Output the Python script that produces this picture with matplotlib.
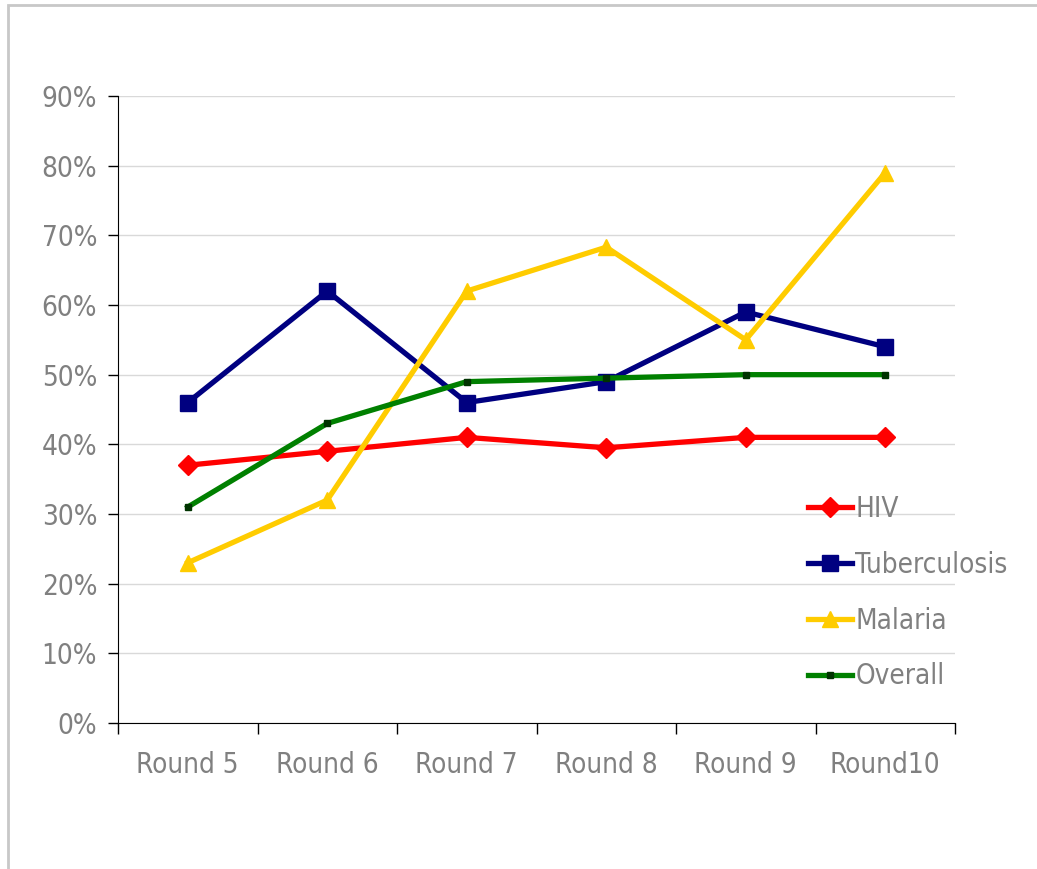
import matplotlib.pyplot as plt
from matplotlib.patches import Rectangle
from matplotlib.ticker import PercentFormatter

plt.rcParams['font.family'] = ['DejaVu Sans']
plt.rcParams['font.stretch'] = 'condensed'

# Data (share of ..., per round)
rounds = ['Round 5', 'Round 6', 'Round 7', 'Round 8', 'Round 9', 'Round10']
hiv = [37, 39, 41, 39.5, 41, 41]
tuberculosis = [46, 62, 46, 49, 59, 54]
malaria = [23, 32, 62, 68.3, 55, 79]
overall = [31, 43, 49, 49.5, 50, 50]

fig = plt.figure(figsize=(10.37, 8.69), dpi=100)
# outer chart border (Excel style)
fig.patches.append(Rectangle((8 / 1037, -0.1), 1.2, 1 - 5 / 869 + 0.1,
                             transform=fig.transFigure, fill=False,
                             edgecolor='#c8c8c8', linewidth=2))

ax = fig.add_axes([118 / 1037, 1 - 723 / 869, 837 / 1037, 627 / 869])
x = [i + 0.5 for i in range(len(rounds))]

ax.plot(x, hiv, color='#ff0000', lw=3.8, marker='D', ms=10,
        mfc='#ff0000', mec='#ff0000', label='HIV', zorder=3)
ax.plot(x, tuberculosis, color='#000080', lw=3.8, marker='s', ms=11,
        mfc='#000080', mec='#000080', label='Tuberculosis', zorder=3)
ax.plot(x, malaria, color='#ffcc00', lw=3.8, marker='^', ms=12,
        mfc='#ffcc00', mec='#ffcc00', label='Malaria', zorder=3)
ax.plot(x, overall, color='#008000', lw=3.8, marker='s', ms=5,
        mfc='#003300', mec='#003300', label='Overall', zorder=3)

ax.set_xlim(0, 6)
ax.set_ylim(0, 90)
ax.set_yticks(range(0, 91, 10))
ax.yaxis.set_major_formatter(PercentFormatter(decimals=0))
ax.set_xticks(range(0, 7))
ax.set_xticklabels([])
ax.set_xticks(x, minor=True)
ax.set_xticklabels(rounds, minor=True)
ax.tick_params(axis='x', which='minor', length=0, pad=20,
               labelsize=20, labelcolor='#808080')
ax.tick_params(axis='x', which='major', length=8, width=1, direction='out')
ax.tick_params(axis='y', length=7, width=1, direction='out', pad=8,
               labelsize=20, labelcolor='#808080')

ax.grid(axis='y', color='#d9d9d9', lw=1)
ax.set_axisbelow(True)
for s in ['top', 'right']:
    ax.spines[s].set_visible(False)
ax.spines['left'].set_color('black')
ax.spines['bottom'].set_color('black')

ax.legend(loc='upper left', bbox_to_anchor=(783 / 1037, 1 - 470 / 869),
          bbox_transform=fig.transFigure, frameon=False, fontsize=20,
          handlelength=1.6, handletextpad=0.1, labelspacing=1.0,
          labelcolor='#808080')

fig.savefig('out.png', dpi=100)
